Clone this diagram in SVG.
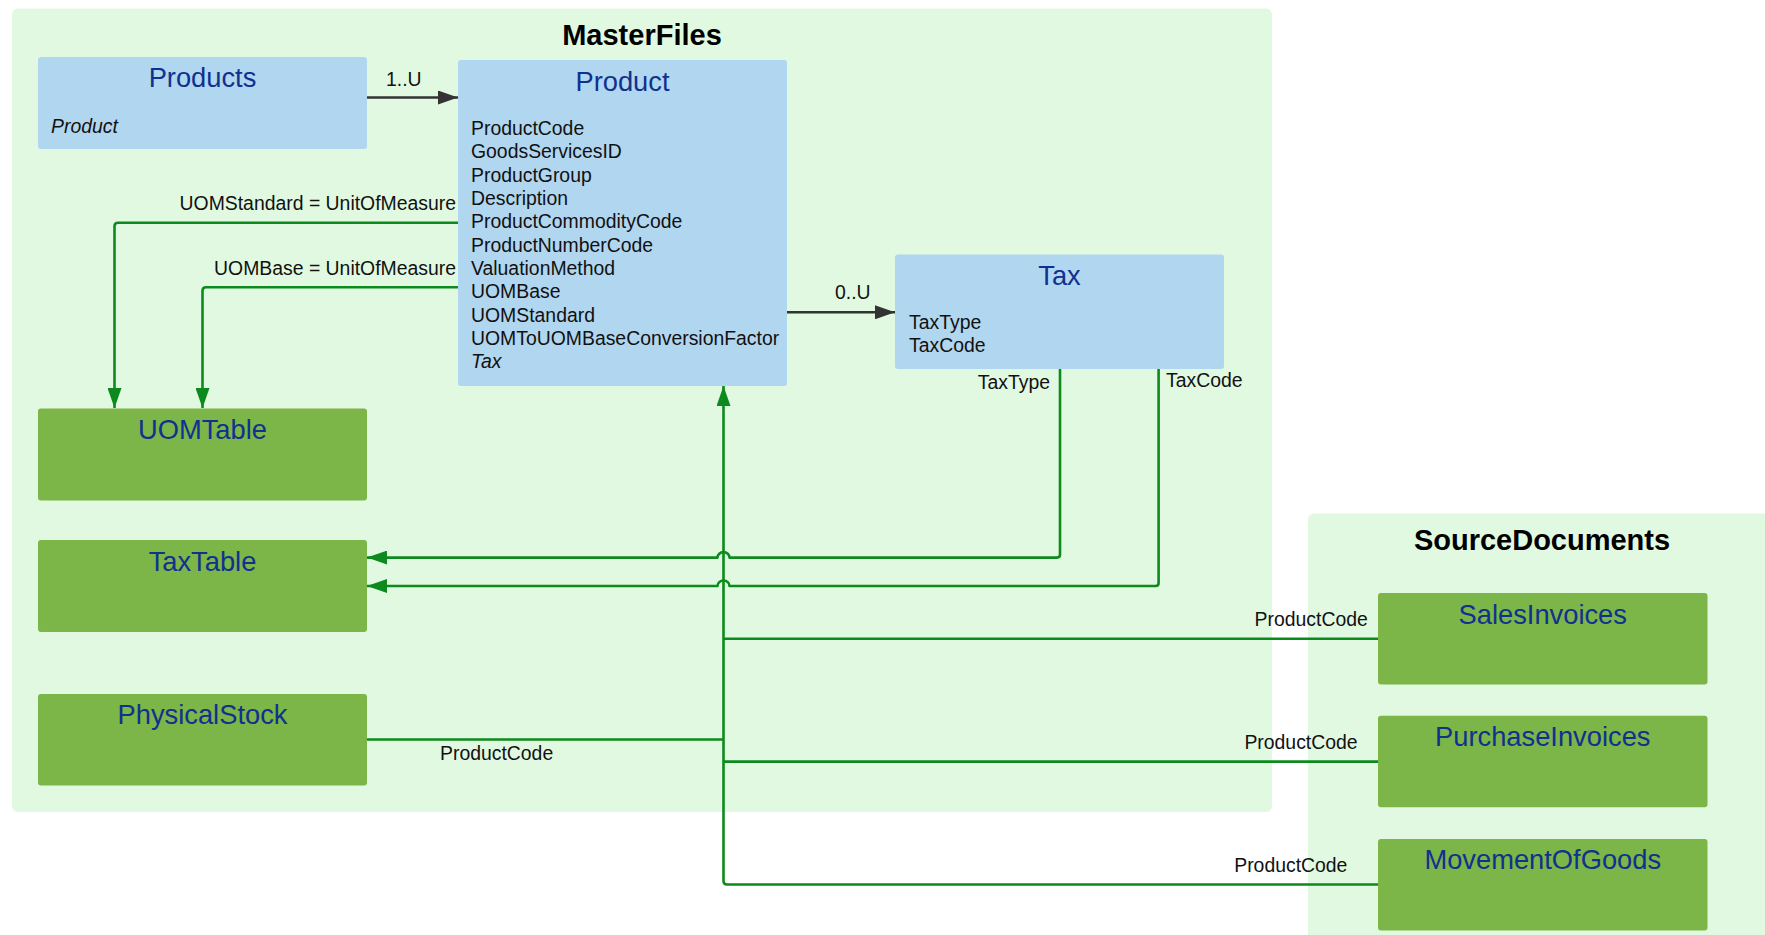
<svg xmlns="http://www.w3.org/2000/svg" width="1765" height="935" viewBox="0 0 1765 935">
  <style>
    .container { fill: #e1f9e1; }
    .entity { fill: #b1d6f0; }
    .table { fill: #7cb548; }
    .ctitle { font-family: "Liberation Sans", Arial, sans-serif; font-size: 29px; font-weight: bold; fill: #000; text-anchor: middle; }
    .title { font-family: "Liberation Sans", Arial, sans-serif; font-size: 27.3px; fill: #10318e; text-anchor: middle; }
    .attr { font-family: "Liberation Sans", Arial, sans-serif; font-size: 19.4px; fill: #111; }
    .lbl { font-family: "Liberation Sans", Arial, sans-serif; font-size: 19.4px; fill: #111; }
    .end { text-anchor: end; }
    .ital { font-style: italic; }
    .link { fill: none; stroke: #0d8a1d; stroke-width: 2.6; stroke-linejoin: round; }
    .assoc { fill: none; stroke: #333; stroke-width: 2.4; }
  </style>
  <defs>
    <marker id="greenHead" viewBox="0 0 20 14" refX="20" refY="7" markerWidth="20" markerHeight="14" markerUnits="userSpaceOnUse" orient="auto">
      <path d="M0,0 L20,7 L0,14 Z" fill="#0d8a1d"/>
    </marker>
    <marker id="grayHead" viewBox="0 0 20 14" refX="20" refY="7" markerWidth="20" markerHeight="14" markerUnits="userSpaceOnUse" orient="auto">
      <path d="M0,0 L20,7 L0,14 Z" fill="#333"/>
    </marker>
  </defs>

  <rect width="1765" height="935" fill="#fff"/>

  <!-- package containers -->
  <g id="MasterFiles">
    <rect class="container" x="12" y="8.5" width="1260" height="803.5" rx="6"/>
    <text class="ctitle" x="642" y="45">MasterFiles</text>
  </g>
  <g id="SourceDocuments">
    <rect class="container" x="1308" y="513.5" width="470" height="440" rx="6"/>
    <text class="ctitle" x="1542" y="550">SourceDocuments</text>
  </g>

  <!-- connectors -->
  <g id="connectors">
    <!-- Products -> Product -->
    <path class="assoc" d="M367,97.5 H458" marker-end="url(#grayHead)"/>
    <text class="lbl" x="386" y="86">1..U</text>
    <!-- Product -> Tax -->
    <path class="assoc" d="M787,312.3 H895" marker-end="url(#grayHead)"/>
    <text class="lbl" x="835" y="299">0..U</text>

    <!-- Product -> UOMTable -->
    <path class="link" d="M458,222.7 H118 Q114.5,222.7 114.5,226.2 V408" marker-end="url(#greenHead)"/>
    <text class="lbl end" x="456" y="210">UOMStandard = UnitOfMeasure</text>
    <path class="link" d="M458,287.3 H206 Q202.5,287.3 202.5,290.8 V408" marker-end="url(#greenHead)"/>
    <text class="lbl end" x="456" y="275">UOMBase = UnitOfMeasure</text>

    <!-- Tax -> TaxTable, hopping over the ProductCode trunk -->
    <path class="link" d="M1060,369 V554.5 Q1060,557.6 1057,557.6 H729.5 A6 5.5 0 0 0 717.5,557.6 H367" marker-end="url(#greenHead)"/>
    <text class="lbl end" x="1050" y="389">TaxType</text>
    <path class="link" d="M1158.6,369 V583 Q1158.6,586 1155.6,586 H729.5 A6 5.5 0 0 0 717.5,586 H367" marker-end="url(#greenHead)"/>
    <text class="lbl" x="1166" y="387">TaxCode</text>

    <!-- ProductCode references to Product -->
    <path class="link" d="M1378,884.5 H727 Q723.5,884.5 723.5,881 V386" marker-end="url(#greenHead)"/>
    <path class="link" d="M1378,638.8 H723.5"/>
    <path class="link" d="M1378,761.6 H723.5"/>
    <path class="link" d="M367,739.5 H723.5"/>
    <text class="lbl end" x="1367.8" y="625.9">ProductCode</text>
    <text class="lbl end" x="1357.6" y="748.7">ProductCode</text>
    <text class="lbl end" x="1347.4" y="871.5">ProductCode</text>
    <text class="lbl" x="440" y="760">ProductCode</text>
  </g>

  <!-- entities -->
  <g id="Products">
    <rect class="entity" x="38" y="57" width="329" height="92" rx="3"/>
    <text class="title" x="202.5" y="87">Products</text>
    <text class="attr ital" x="51" y="133">Product</text>
  </g>

  <g id="Product">
    <rect class="entity" x="458" y="60" width="329" height="326" rx="3"/>
    <text class="title" x="622.5" y="90.5">Product</text>
    <text class="attr" x="471" y="135">ProductCode</text>
    <text class="attr" x="471" y="158.3">GoodsServicesID</text>
    <text class="attr" x="471" y="181.7">ProductGroup</text>
    <text class="attr" x="471" y="205">Description</text>
    <text class="attr" x="471" y="228.3">ProductCommodityCode</text>
    <text class="attr" x="471" y="251.7">ProductNumberCode</text>
    <text class="attr" x="471" y="275">ValuationMethod</text>
    <text class="attr" x="471" y="298.3">UOMBase</text>
    <text class="attr" x="471" y="321.7">UOMStandard</text>
    <text class="attr" x="471" y="345">UOMToUOMBaseConversionFactor</text>
    <text class="attr ital" x="471" y="368.3">Tax</text>
  </g>

  <g id="Tax">
    <rect class="entity" x="895" y="254.5" width="329" height="114.5" rx="3"/>
    <text class="title" x="1059.5" y="285">Tax</text>
    <text class="attr" x="909" y="329">TaxType</text>
    <text class="attr" x="909" y="352">TaxCode</text>
  </g>

  <g id="UOMTable">
    <rect class="table" x="38" y="408.5" width="329" height="92" rx="3"/>
    <text class="title" x="202.5" y="439">UOMTable</text>
  </g>

  <g id="TaxTable">
    <rect class="table" x="38" y="540" width="329" height="92" rx="3"/>
    <text class="title" x="202.5" y="570.6">TaxTable</text>
  </g>

  <g id="PhysicalStock">
    <rect class="table" x="38" y="694" width="329" height="91.5" rx="3"/>
    <text class="title" x="202.5" y="724">PhysicalStock</text>
  </g>

  <g id="SalesInvoices">
    <rect class="table" x="1378" y="593" width="329.5" height="91.5" rx="3"/>
    <text class="title" x="1542.75" y="623.5">SalesInvoices</text>
  </g>

  <g id="PurchaseInvoices">
    <rect class="table" x="1378" y="715.8" width="329.5" height="91.5" rx="3"/>
    <text class="title" x="1542.75" y="746.3">PurchaseInvoices</text>
  </g>

  <g id="MovementOfGoods">
    <rect class="table" x="1378" y="839" width="329.5" height="91.5" rx="3"/>
    <text class="title" x="1542.75" y="869">MovementOfGoods</text>
  </g>
</svg>
